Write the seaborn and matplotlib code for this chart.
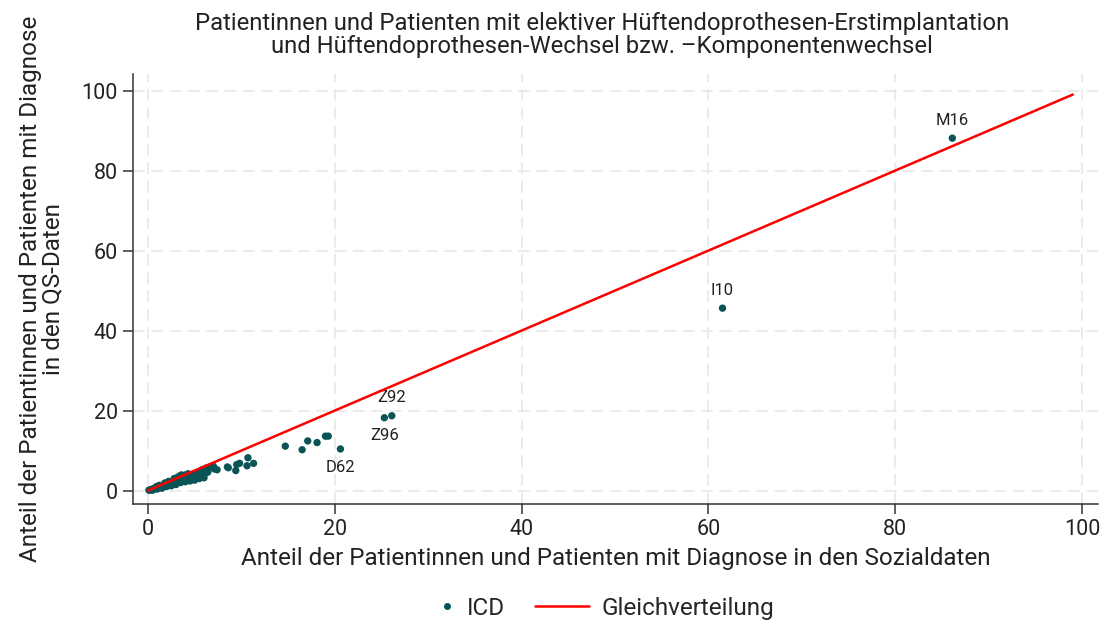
import matplotlib
matplotlib.use("Agg")
import matplotlib.pyplot as plt
import seaborn as sns
import pandas as pd
from matplotlib.lines import Line2D

# Anteil (%) je ICD-Code: Sozialdaten (x) vs. QS-Daten (y)
anteil_sozial = [0.1, 0.2, 0.3, 0.4, 0.5, 0.6, 0.7, 0.8, 0.9, 1.0, 1.1, 1.2, 1.3, 1.4,
                 1.5, 1.6, 1.7, 1.8, 1.9, 2.0, 2.1, 2.2, 2.3, 2.4, 2.5, 2.6, 2.7, 2.8,
                 2.9, 3.0, 3.1, 3.2, 3.3, 3.4, 3.5, 3.6, 3.7, 3.8, 3.9, 4.0, 4.1, 4.2,
                 4.4, 4.5, 4.6, 4.8, 5.0, 5.1, 5.3, 5.5, 5.6, 5.8, 5.9, 6.0, 6.2, 6.4,
                 6.6, 7.0, 7.1, 7.4, 8.5, 8.6, 9.4, 9.5, 9.8, 10.6, 10.7, 11.3,
                 14.7, 16.5, 17.1, 18.1, 19.0, 19.3, 20.6, 25.3, 26.1, 61.5, 86.1,
                 0.5, 1.0, 1.5, 2.0, 2.5, 3.0, 3.5, 4.0, 4.5, 5.0, 5.5, 6.0,
                 1.2, 2.2, 2.8, 3.2, 4.3, 3.6, 4.0, 0.9, 1.8]
anteil_qs = [0.1, 0.1, 0.2, 0.3, 0.3, 0.5, 0.4, 0.6, 0.5, 0.8, 0.7, 0.9, 0.8, 1.1,
             1.0, 1.2, 1.0, 1.4, 1.2, 1.6, 1.3, 1.7, 1.5, 1.9, 1.6, 2.0, 1.8, 2.2,
             1.9, 2.4, 2.0, 2.6, 2.2, 2.8, 3.8, 2.5, 3.0, 2.7, 3.3, 2.9, 3.6, 3.1,
             3.4, 2.8, 3.8, 3.2, 4.0, 3.0, 3.6, 4.5, 3.3, 5.2, 4.1, 3.2, 5.6, 4.6,
             5.8, 6.1, 5.4, 5.2, 5.9, 5.7, 5.0, 6.5, 6.8, 6.2, 8.2, 6.8,
             11.1, 10.2, 12.4, 12.0, 13.6, 13.6, 10.4, 18.2, 18.7, 45.6, 88.1,
             0.1, 0.4, 0.6, 1.0, 1.2, 1.5, 2.0, 2.2, 2.4, 2.6, 3.0, 3.9,
             1.3, 2.3, 3.0, 3.4, 4.2, 3.9, 3.9, 1.0, 1.9]

# beschriftete Codes
labels_code = ["M16", "I10", "Z92", "Z96", "D62"]
labels_x = [86.1, 61.5, 26.1, 25.3, 20.6]
labels_y = [88.1, 45.6, 18.7, 18.2, 10.4]
labels_pos = ["above", "above", "above", "below", "below"]

gleich = [0, 99]
ticks = [0, 20, 40, 60, 80, 100]

dot_clr = "#0b5456"
line_clr = "#ff0000"
txt_clr = "#222222"

df = pd.DataFrame({"sozial": anteil_sozial, "qs": anteil_qs})

sns.set_style("white")
plt.rcParams["font.family"] = ["Roboto", "DejaVu Sans"]

fig = plt.figure(figsize=(11.04, 6.23), dpi=100)
ax = fig.add_axes([0.1205, 0.191, 0.8741, 0.690])

sns.scatterplot(data=df, x="sozial", y="qs", color=dot_clr, s=28, edgecolor="none",
                ax=ax, zorder=3)
# Gleichverteilungslinie liegt über den Punkten
sns.lineplot(x=gleich, y=gleich, color=line_clr, linewidth=1.8, ax=ax, zorder=4)

for code, lx, ly, pos in zip(labels_code, labels_x, labels_y, labels_pos):
    off = 13 if pos == "above" else -13
    ax.annotate(code, (lx, ly), xytext=(0, off), textcoords="offset points",
                ha="center", va="center", fontsize=12, color=txt_clr)

ax.set_xlim(-1.6, 101.7)
ax.set_ylim(-3.36, 104.1)
ax.set_xticks(ticks)
ax.set_yticks(ticks)
ax.grid(True, color="#e8e8e8", linestyle=(0, (7, 4)), linewidth=1.2)
ax.set_axisbelow(True)
for side in ["top", "right"]:
    ax.spines[side].set_visible(False)
for side in ["left", "bottom"]:
    ax.spines[side].set_color("#333333")
    ax.spines[side].set_linewidth(1.1)
ax.tick_params(axis="both", direction="out", length=7, width=1.1, color="#333333",
               labelsize=15.5, labelcolor=txt_clr, pad=4,
               left=True, bottom=True)

ax.set_xlabel("Anteil der Patientinnen und Patienten mit Diagnose in den Sozialdaten",
              fontsize=17.5, color=txt_clr, labelpad=5)
ax.set_ylabel("Anteil der Patientinnen und Patienten mit Diagnose\nin den QS-Daten",
              fontsize=17.5, color=txt_clr, labelpad=12, linespacing=1.0)
ax.set_title("Patientinnen und Patienten mit elektiver Hüftendoprothesen-Erstimplantation\n"
             "und Hüftendoprothesen-Wechsel bzw. \u2013Komponentenwechsel",
             fontsize=17.2, color=txt_clr, pad=15, linespacing=1.0, x=0.486)

h_icd = Line2D([], [], marker="o", linestyle="none", color=dot_clr, markersize=4)
h_gleich = Line2D([], [], color=line_clr, linewidth=1.8)
fig.legend([h_icd], ["ICD"], loc="center", bbox_to_anchor=(0.428, 0.024),
           frameon=False, fontsize=17.5, handlelength=0.6, handletextpad=0.5)
fig.legend([h_gleich], ["Gleichverteilung"], loc="center", bbox_to_anchor=(0.593, 0.024),
           frameon=False, fontsize=17.5, handlelength=2.2, handletextpad=0.5)

fig.savefig("out.png", dpi=100)
